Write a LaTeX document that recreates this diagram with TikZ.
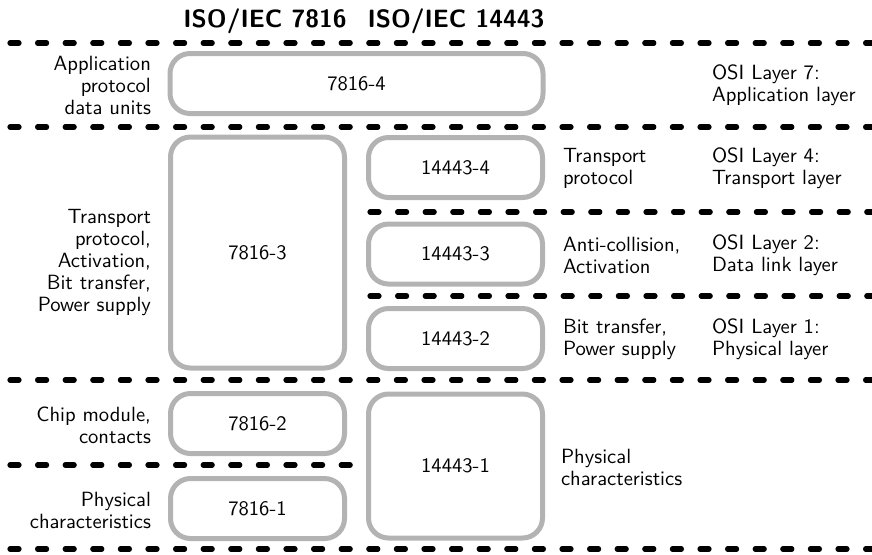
\documentclass[tikz,border=0pt]{standalone}
\usepackage{tikz}
\usetikzlibrary{positioning}
\definecolor{cBoxGray}{RGB}{179,179,179}

\begin{document}
\begin{tikzpicture}[x=0.5pt, y=-0.5pt,
    every node/.style={font=\sffamily\fontsize{10.3}{11}\selectfont},
    layerbox/.style={draw=cBoxGray, line width=2.5pt, rounded corners=10pt, minimum width=87pt, minimum height=30pt, inner sep=0pt},
    sep/.style={line width=2.6pt, line cap=round, dash pattern=on 4.5pt off 9.3pt}]
    \useasboundingbox (0,0) rectangle (872,554);

    % column headings
    \node[font=\sffamily\bfseries\fontsize{12.5}{14}\selectfont] (h7816) at (265,21) {ISO/IEC 7816};
    \node[font=\sffamily\bfseries\fontsize{12.5}{14}\selectfont] (h14443) at (456,21) {ISO/IEC 14443};

    % layer separators
    \foreach \y in {43,127,380,549}
        \draw[sep] (10,\y) -- (885,\y);
    \draw[sep] (370,212) -- (885,212);
    \draw[sep] (370,296) -- (885,296);
    \draw[sep] (10,465) -- (351,465);

    % parts of the standards
    \node[layerbox, minimum width=186.5pt] (p78164) at (356.5,83.5) {7816-4};
    \node[layerbox, minimum height=115.5pt] (p78163) at (257.5,252.5) {7816-3};
    \node[layerbox] (p78162) at (257.5,423.5) {7816-2};
    \node[layerbox] (p78161) at (257.5,508.5) {7816-1};
    \node[layerbox] (p144434) at (455.5,167.5) {14443-4};
    \node[layerbox] (p144433) at (455.5,254) {14443-3};
    \node[layerbox] (p144432) at (455.5,338.5) {14443-2};
    \node[layerbox, minimum height=72pt] (p144431) at (455.5,466) {14443-1};

    % what the 7816 parts cover
    \node[anchor=east, align=right] (d78164) at (158,85) {Application\\protocol\\data units};
    \node[anchor=east, align=right] (d78163) at (158,263) {Transport\\protocol,\\Activation,\\Bit transfer,\\Power supply};
    \node[anchor=east, align=right] (d78162) at (158,425) {Chip module,\\contacts};
    \node[anchor=east, align=right] (d78161) at (158,510) {Physical\\characteristics};

    % what the 14443 parts cover
    \node[anchor=west, align=left] (d144434) at (556,168) {Transport\\protocol};
    \node[anchor=west, align=left] (d144433) at (556,255) {Anti-collision,\\Activation};
    \node[anchor=west, align=left] (d144432) at (556,339) {Bit transfer,\\Power supply};
    \node[anchor=west, align=left] (d144431) at (554,467) {Physical\\characteristics};

    % OSI layers
    \node[anchor=west, align=left] (osi7) at (705,85) {OSI Layer 7:\\Application layer};
    \node[anchor=west, align=left] (osi4) at (705,168) {OSI Layer 4:\\Transport layer};
    \node[anchor=west, align=left] (osi2) at (705,255) {OSI Layer 2:\\Data link layer};
    \node[anchor=west, align=left] (osi1) at (705,339) {OSI Layer 1:\\Physical layer};
\end{tikzpicture}
\end{document}
